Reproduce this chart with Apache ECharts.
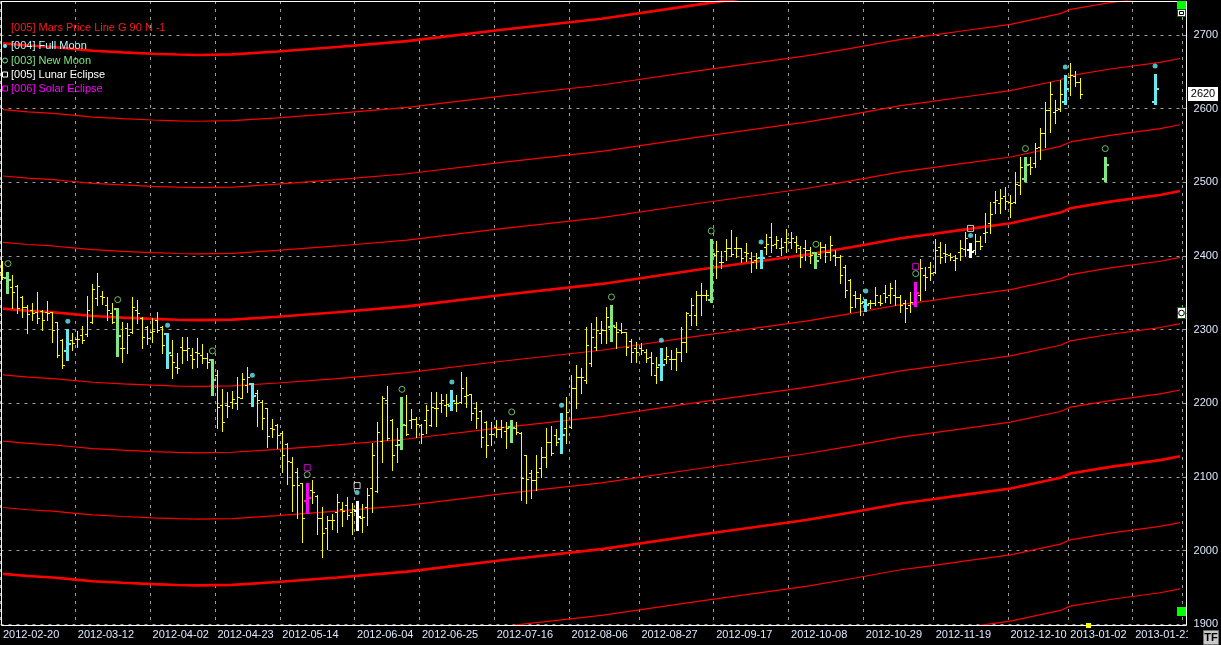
<!DOCTYPE html>
<html><head><meta charset="utf-8">
<script src="https://cdn.jsdelivr.net/npm/echarts/dist/echarts.min.js"></script>
<style>html,body{margin:0;padding:0;background:#000;}#c{width:1221px;height:645px;}</style>
</head><body><div id="c"></div>
<script>
// ---------- categories (trading days) ----------
const START_DATE = '2012-02-20';
const SLOT_COUNT = 237;
const CLOSED_DAYS = ['2012-04-06','2012-04-09','2012-05-01','2012-05-02','2012-06-11','2012-06-12','2012-08-15','2012-11-12','2012-12-24','2012-12-25','2012-12-26','2012-12-31','2013-01-01'];
const LABEL_DATES = ['2012-02-20','2012-03-12','2012-04-02','2012-04-23','2012-05-14','2012-06-04','2012-06-25','2012-07-16','2012-08-06','2012-08-27','2012-09-17','2012-10-08','2012-10-29','2012-11-19','2012-12-10','2013-01-02','2013-01-21'];

// ---------- price bars (one per trading day from START_DATE) ----------
const OPEN = [2378.7,2369.7,2358.3,2359.7,2344.8,2331.2,2326.7,2324.4,2325.8,2324.4,2324.4,2310.4,2286.0,2271.0,2286.0,2286.9,2292.7,2293.6,2310.8,2342.5,
2346.1,2333.5,2322.1,2328.0,2274.6,2301.8,2297.3,2326.7,2315.4,2304.0,2297.3,2313.1,2304.0,2293.6,2265.6,2249.7,2276.9,2272.4,2265.6,2270.1,
2266,2262,2258.8,2238.4,2197.7,2197.7,2202.2,2200.0,2207.7,2224.9,2225.8,2213.6,2202.2,2193.2,2166.0,2170.6,2159.2,2144.3,2120.8,2107.2,
2091.4,2067.9,2082.3,2074.6,2043.9,2030.3,2041.6,2052.9,2056.5,2062.0,2052.9,2053.8,2043.9,2059.7,2084.6,2081.0,2148.9,2204.5,2177.4,2143.4,
2143.4,2170.6,2177.4,2178.3,2170.6,2177.4,2170.6,2193.2,2200.9,2197.7,2196.8,2200.9,2202.2,2209.9,2212.2,2193.2,2189.6,2175.1,2158.3,2168.3,
2164.7,2162.9,2168.3,2166.0,2160.2,2129.8,2105.0,2095.9,2111.7,2127.6,2148.0,2157.0,2151.1,2166.0,2168.3,2220.3,2236.2,2231.7,2254.3,2276.9,
2295.0,2299.5,2304.0,2304.0,2299.5,2296.3,2284.6,2275.5,2274.6,2270.1,2263.3,2238.4,2252.0,2260.1,2260.1,2260.1,2270.1,2283.6,2319.9,2319.9,
2347.0,2347.0,2340.2,2401.3,2392.2,2406.8,2410.4,2411.3,2410.4,2405.8,2396.8,2394.5,2396.8,2412.6,2426.2,2415.8,2410.4,2419.4,2418.5,2419.4,
2410.4,2410.4,2408.1,2403.6,2402.2,2412.6,2405.8,2401.3,2399.1,2385.5,2367.4,2347.0,2342.5,2338.0,2335.7,2335.7,2338.0,2349.3,2347.0,2347.0,
2344.8,2335.7,2333.5,2334.3,2347.0,2374.2,2385.5,2378.7,2412.6,2403.6,2401.3,2394.5,2405.8,2410,2408,2408,2420,2431.6,2444.3,2473.7,
2471.5,2481.4,2473.7,2473.7,2496.3,2504.0,2524.8,2526.7,2547.5,2566.5,2598.2,2595.9,2599.1,2609.5,2643.4,2644.3,2636.6];
const HIGH = [2393.6,2378.7,2374.2,2360.6,2345.7,2333.5,2335.7,2350.7,2326.7,2338.9,2324.4,2310.8,2287.3,2300.4,2295.9,2298.6,2304.9,2345.7,2362.0,2376.5,
2352.9,2344.8,2335.7,2329.8,2310.8,2308.6,2343.9,2340.2,2317.6,2304.9,2315.4,2324.4,2304.9,2295.0,2286.0,2267.8,2290.5,2290.5,2274.6,2288.2,
2280,2268,2260.2,2245.2,2219.4,2215.8,2216.7,2235.3,2240.7,2248.9,2227.1,2218.1,2204.5,2194.1,2178.7,2171.9,2162.4,2145.7,2127.6,2111.7,
2092.3,2092.3,2095.9,2075.5,2059.7,2047.5,2049.3,2076.4,2066.5,2073.3,2065.1,2067.9,2063.3,2085.5,2145.7,2175.1,2210.4,2223.5,2178.3,2167.0,
2208.1,2211.3,2191.8,2181.9,2171.9,2197.7,2215.8,2214.9,2212.6,2212.2,2218.1,2211.3,2242.1,2235.3,2212.6,2201.3,2190.9,2176.0,2174.2,2177.4,
2177.4,2175.1,2177.4,2175.1,2160.6,2129.8,2109.5,2129.8,2140.3,2166.0,2169.2,2164.7,2186.4,2209.0,2238.4,2252.0,2247.5,2304.0,2309.5,2316.7,
2311.7,2331.2,2333.4,2310.8,2308.5,2297.2,2287.3,2283.6,2281.4,2273.7,2269.2,2263.3,2274.6,2276.9,2272.4,2274.6,2304.0,2324.4,2342.5,2352.4,
2362.8,2353.8,2423.0,2420.3,2406.8,2423.0,2435.2,2426.2,2411.3,2417.1,2405.8,2403.6,2408.1,2429.4,2444.3,2427.5,2424.8,2436.6,2433.0,2427.5,
2414.0,2421.7,2412.6,2404.9,2419.4,2415.8,2427.1,2408.1,2401.3,2387.7,2368.7,2352.5,2347.9,2341.6,2340.2,2358.3,2347.0,2360.6,2362.9,2367.4,
2347.0,2340.2,2351.5,2365.1,2395.9,2385.5,2392.3,2423.0,2418.5,2415.8,2403.6,2401.3,2421.7,2433,2417,2430,2427,2457.9,2473.7,2488.6,
2490.5,2493.2,2482.8,2513.5,2533.9,2534.8,2534.8,2553.8,2573.3,2609.5,2636.6,2611.7,2638.9,2645.7,2661.5,2651.5,2641.1];
const LOW = [2368.3,2349.3,2328.9,2322.1,2317.6,2295.0,2313.1,2309.5,2299.5,2313.1,2283.7,2263.3,2247.5,2258.8,2272.4,2276.0,2282.3,2291.4,2309.5,2333.5,
2334.4,2313.1,2308.6,2264.2,2256.5,2267.8,2295.9,2309.5,2275.5,2280.5,2283.7,2297.3,2267.8,2247.5,2233.9,2240.7,2254.3,2258.8,2247.5,2249.7,
2255,2248,2211.3,2167.0,2162.4,2181.9,2193.2,2192.3,2206.8,2215.8,2196.4,2169.7,2165.2,2141.2,2154.7,2139.8,2106.3,2090.5,2053.8,2044.8,
2012.2,2050.7,2064.2,2022.1,1991.8,2002.2,2029.4,2024.9,2033.9,2043.0,2022.1,2028.0,2025.8,2034.8,2052.9,2080.1,2119.9,2150.2,2109.5,2120.8,
2138.0,2157.0,2166.0,2154.7,2146.6,2159.3,2169.7,2169.7,2188.7,2182.8,2190.9,2190.0,2200.0,2195.4,2177.4,2166.0,2141.2,2126.6,2143.9,2154.7,
2154.7,2139.8,2148.0,2158.3,2068.7,2065.1,2071.0,2082.3,2100.4,2113.1,2129.8,2143.4,2133.0,2146.6,2166.0,2193.2,2213.5,2227.1,2250.7,2272.4,
2281.4,2281.4,2284.6,2274.6,2295.0,2265.6,2256.5,2255.6,2266.5,2256.5,2238.4,2227.1,2231.6,2254.2,2246.5,2245.2,2257.4,2270.1,2306.3,2306.3,
2319.9,2340.2,2338.0,2370.5,2383.2,2394.5,2400.4,2399.0,2392.2,2393.2,2377.8,2384.1,2384.1,2402.2,2404.9,2410.4,2401.3,2404.9,2410.4,2405.8,
2385.5,2394.5,2390.0,2384.1,2396.8,2391.4,2394.5,2387.7,2362.9,2344.8,2324.4,2331.2,2319.9,2325.3,2328.9,2333.5,2333.5,2338.0,2335.7,2333.5,
2324.4,2309.9,2324.4,2332.5,2340.2,2353.8,2367.4,2376.4,2390.0,2391.4,2394.5,2381.0,2394.5,2400,2398,2403,2410,2419.4,2430.7,2458.8,
2458.8,2463.3,2452.4,2471.5,2484.1,2502.2,2511.3,2520.3,2531.2,2547.5,2568.7,2581.0,2597.2,2606.3,2618.5,2630.7,2614.0];
const CLOSE = [2371.9,2367.4,2351.6,2328.9,2331.2,2321.2,2322.1,2315.4,2313.1,2322.1,2299.5,2265.0,2252.0,2280.1,2281.4,2286.9,2286.0,2326.7,2355.2,2359.3,
2344.8,2326.7,2310.8,2291.8,2274.6,2292.7,2331.2,2323.1,2290.5,2288.2,2298.2,2299.5,2279.2,2267.8,2256.5,2247.5,2272.4,2274.6,2259.7,2267.8,
2262,2256,2231.7,2194.6,2174.2,2196.8,2205.9,2208.1,2232.6,2236.2,2209.9,2204.5,2179.6,2156.1,2165.2,2157.0,2129.9,2121.7,2089.1,2089.1,
2043.9,2071.9,2080.1,2043.9,2023.5,2041.6,2041.6,2066.5,2053.8,2048.4,2056.5,2045.2,2046.1,2075.5,2129.9,2161.5,2207.7,2152.5,2129.9,2150.2,
2170.6,2158.3,2178.3,2171.9,2158.3,2190.9,2195.4,2193.2,2204.5,2199.1,2203.6,2200.9,2220.3,2211.3,2186.4,2179.6,2154.7,2143.4,2158.3,2165.1,
2168.3,2166.0,2166.0,2161.5,2098.2,2096.8,2095.9,2107.2,2127.6,2148.0,2132.1,2148.0,2157.0,2188.6,2220.3,2236.2,2236.2,2279.2,2290.5,2299.5,
2299.5,2317.6,2305.4,2296.3,2297.2,2276.9,2270.1,2270.1,2272.4,2261.0,2254.2,2249.7,2252.0,2264.6,2260.1,2270.1,2283.6,2322.1,2333.4,2347.0,
2347.0,2347.0,2402.2,2406.8,2391.3,2410.4,2402.2,2410.4,2397.7,2403.6,2392.2,2396.8,2396.8,2415.8,2414.9,2421.7,2412.6,2423.9,2424.8,2414.9,
2399.0,2408.1,2401.3,2393.2,2412.6,2405.8,2414.9,2399.1,2374.2,2353.8,2331.2,2342.5,2335.7,2333.5,2335.7,2347.0,2335.7,2344.8,2356.1,2344.8,
2333.5,2328.9,2338.0,2349.3,2383.2,2371.9,2376.4,2408.1,2399.1,2402.2,2399.1,2396.8,2410.4,2425,2405,2420,2413,2433.0,2456.9,2476.0,
2478.2,2475.1,2471.5,2497.7,2520.3,2523.5,2521.2,2546.1,2566.5,2598.2,2619.9,2598.2,2619.9,2626.2,2645.7,2636.6,2620.0];

// ---------- moon / eclipse events ----------
const FULL_MOON = ['2012-03-08','2012-04-05','2012-05-04','2012-06-04','2012-07-03','2012-08-02','2012-08-31','2012-09-28','2012-10-29','2012-11-28','2012-12-28','2013-01-25'];
const NEW_MOON = ['2012-02-21','2012-03-22','2012-04-20','2012-05-21','2012-06-19','2012-07-19','2012-08-17','2012-09-14','2012-10-15','2012-11-13','2012-12-13','2013-01-11'];
const LUNAR_ECLIPSE = ['2012-06-04','2012-11-28'];
const SOLAR_ECLIPSE = ['2012-05-21','2012-11-13'];
// projected event bars beyond the last price bar: [date, open, high, low, close]
const PROJECTED_BARS = [['2013-01-11',2504.0,2534.8,2502.2,2523.5],['2013-01-25',2609.5,2647.0,2606.3,2626.2]];

// ---------- Mars price line (G 90) ----------
const MARS_IDX  = [0,5,10,14,18,24,30,35,39,46,55,67,81,100,120,140,161,170,180,186,193,202,212,214,222,232,236];
const MARS_BASE = [1968.5,1965.5,1963.5,1961,1958.5,1956.3,1954.5,1953.3,1952.8,1953.5,1957.5,1963.5,1971.5,1987,2002,2021.8,2041.5,2051.8,2064,2069.4,2076,2084.3,2098.8,2104.7,2113.7,2122.8,2128];
const MARS_LEVELS = [-180,-90,0,90,180,270,360,450,540,630,720];

const Y_MIN = 1900, Y_MAX = 2746, Y_STEP = 100;
const LAST_PRICE = CLOSE[CLOSE.length-1];

// ---------- build ----------
const categories = [];
(function(){
  const d = new Date(START_DATE+'T00:00:00Z');
  while (categories.length < SLOT_COUNT) {
    const w = d.getUTCDay(), s = d.toISOString().slice(0,10);
    if (w !== 0 && w !== 6 && CLOSED_DAYS.indexOf(s) < 0) categories.push(s);
    d.setUTCDate(d.getUTCDate()+1);
  }
})();
const labelIdx = new Set(LABEL_DATES.map(s => categories.indexOf(s)));

const priceData = OPEN.map((o,i) => [i, o, HIGH[i], LOW[i], CLOSE[i]]);
function barFor(date){
  const i = categories.indexOf(date);
  if (i >= 0 && i < OPEN.length) return [i, OPEN[i], HIGH[i], LOW[i], CLOSE[i]];
  const p = PROJECTED_BARS.find(b => b[0] === date);
  return p ? [i, p[1], p[2], p[3], p[4]] : null;
}
const evBars = list => list.map(barFor).filter(Boolean);

const FONT = '"Liberation Sans", Arial, sans-serif';
const COL = {yellow:'#ffff00', cyan:'#66eaf2', green:'#80e880', white:'#ffffff', magenta:'#ff00ff', red:'#ff0000', grid:'#9a9a9a', text:'#dde8ff'};

function makeOHLC(color, thick){
  return function(params, api){
    const i = api.value(0);
    const o = api.coord([i, api.value(1)]), h = api.coord([i, api.value(2)]);
    const l = api.coord([i, api.value(3)]), c = api.coord([i, api.value(4)]);
    const col = Math.floor(h[0]);
    const yH = Math.round(h[1]), yL = Math.round(l[1]), yO = Math.round(o[1]), yC = Math.round(c[1]);
    const st = {fill: color};
    const k = [];
    if (!thick) {
      k.push({type:'rect', shape:{x:col, y:yH, width:1, height:Math.max(1,yL-yH+1)}, style:st});
      k.push({type:'rect', shape:{x:col-2, y:yO, width:2, height:1}, style:st});
      k.push({type:'rect', shape:{x:col+1, y:yC, width:2, height:1}, style:st});
    } else {
      k.push({type:'rect', shape:{x:col-1, y:yH, width:3, height:Math.max(1,yL-yH+1)}, style:st});
      k.push({type:'rect', shape:{x:col-3, y:yO-1, width:2, height:2}, style:st});
      k.push({type:'rect', shape:{x:col+2, y:yC-1, width:2, height:2}, style:st});
    }
    return {type:'group', children:k};
  };
}
function ohlcSeries(name, data, color, thick, z){
  return {name, type:'custom', data, renderItem:makeOHLC(color, thick), clip:true, z, silent:true,
          encode:{x:0, y:[1,2,3,4]}, animation:false};
}
function markerSeries(name, list, symbol, size, color, filled, offset, z){
  return {name, type:'scatter', z, silent:true, animation:false,
    data: evBars(list).map(b => [b[0], b[2]]),
    symbol, symbolSize:size, symbolOffset:[0, offset],
    itemStyle: filled ? {color} : {color:'rgba(0,0,0,0)', borderColor:color, borderWidth:1}};
}

const series = [];
MARS_LEVELS.forEach(lv => {
  const thick = lv % 360 === 0;
  series.push({name:'mars'+lv, type:'line', z:1, silent:true, animation:false, symbol:'none', clip:true,
    data: MARS_IDX.map((ix,j) => [ix, MARS_BASE[j] + lv]),
    lineStyle:{color:COL.red, width: thick ? 2.6 : 1.2}});
});
series.push(ohlcSeries('price', priceData, COL.yellow, false, 3));
series.push(ohlcSeries('newMoonBar', evBars(NEW_MOON), COL.green, true, 4));
series.push(ohlcSeries('fullMoonBar', evBars(FULL_MOON), COL.cyan, true, 4));
series.push(ohlcSeries('solarBar', evBars(SOLAR_ECLIPSE), COL.magenta, true, 5));
series.push(ohlcSeries('lunarBar', evBars(LUNAR_ECLIPSE), COL.white, true, 5));
series.push(markerSeries('fullMoonMk', FULL_MOON, 'circle', 5, COL.cyan, true, -8, 6));
series.push(markerSeries('newMoonMk', NEW_MOON, 'circle', 6, COL.green, false, -8, 6));
series.push(markerSeries('lunarMk', LUNAR_ECLIPSE, 'rect', 6, COL.white, false, -15, 6));
series.push(markerSeries('solarMk', SOLAR_ECLIPSE, 'rect', 6, COL.magenta, false, -15, 6));

const legendItems = [
  {t:'[004] Full Moon', c:'#b8f6f8', y:46, mk:{type:'circle', shape:{cx:5, cy:46, r:2}, style:{fill:COL.cyan}}},
  {t:'[003] New Moon', c:COL.green, y:60.5, mk:{type:'circle', shape:{cx:5, cy:60.5, r:2.5}, style:{fill:'none', stroke:COL.green, lineWidth:1}}},
  {t:'[005] Lunar Eclipse', c:'#ffffff', y:74.5, mk:{type:'rect', shape:{x:2.5, y:72, width:5, height:5}, style:{fill:'none', stroke:'#fff', lineWidth:1}}},
  {t:'[006] Solar Eclipse', c:COL.magenta, y:88.5, mk:{type:'rect', shape:{x:2.5, y:86, width:5, height:5}, style:{fill:'none', stroke:COL.magenta, lineWidth:1}}}
];
const graphics = [
  {type:'rect', z:50, silent:true, shape:{x:1.5, y:1.5, width:1185, height:624}, style:{fill:'none', stroke:'#fff', lineWidth:1}},
  {type:'text', z:60, x:11, y:28, style:{text:'[005] Mars Price Line G 90 N -1', fill:'#ff1a1a', font:'11px '+FONT, verticalAlign:'middle'}}
];
legendItems.forEach(it => {
  graphics.push({type:'text', z:60, x:11, y:it.y, style:{text:it.t, fill:it.c, font:'11px '+FONT, verticalAlign:'middle'}});
  graphics.push(Object.assign({z:60}, it.mk));
});
graphics.push(
  {type:'rect', z:60, shape:{x:1177, y:1, width:9, height:8}, style:{fill:'#00ff00'}},
  {type:'rect', z:60, shape:{x:1177.5, y:9.5, width:8, height:7}, style:{fill:'#ffffff', stroke:'#006600', lineWidth:1}},
  {type:'rect', z:61, shape:{x:1179.5, y:11.5, width:4, height:3}, style:{fill:'none', stroke:'#000', lineWidth:1}},
  {type:'rect', z:60, shape:{x:1177.5, y:307.5, width:8, height:11}, style:{fill:'#ffffff', stroke:'#006600', lineWidth:1}},
  {type:'circle', z:61, shape:{cx:1181.5, cy:313, r:2.8}, style:{fill:'none', stroke:'#000', lineWidth:1}},
  {type:'rect', z:60, shape:{x:1177, y:607, width:9, height:9}, style:{fill:'#00ff00'}},
  {type:'rect', z:60, shape:{x:1086, y:623, width:5, height:5}, style:{fill:'#ffff00'}},
  {type:'rect', z:70, shape:{x:1188, y:630, width:33, height:15}, style:{fill:'#000'}},
  {type:'rect', z:71, shape:{x:1203.5, y:630.5, width:15, height:14}, style:{fill:'#c8c8c8', stroke:'#707070', lineWidth:1}},
  {type:'text', z:72, x:1211, y:638, style:{text:'TF', fill:'#000', font:'bold 11px '+FONT, align:'center', verticalAlign:'middle'}}
);

const chart = echarts.init(document.getElementById('c'), null, {renderer:'canvas'});
chart.setOption({
  backgroundColor:'#000',
  animation:false,
  grid:{left:0, top:1, width:1186, height:623.3, containLabel:false},
  xAxis:{type:'category', data:categories, boundaryGap:true,
    axisLine:{show:false}, axisTick:{show:false},
    axisLabel:{interval:(i)=>labelIdx.has(i), align:'left', color:COL.text, fontSize:11, fontFamily:FONT, margin:5, hideOverlap:false},
    splitLine:{show:true, interval:(i)=>labelIdx.has(i), lineStyle:{color:COL.grid, type:[3,5], width:1}}},
  yAxis:{type:'value', position:'right', min:Y_MIN, max:Y_MAX, interval:Y_STEP, scale:false,
    axisLine:{show:false}, axisTick:{show:true, length:4, lineStyle:{color:COL.grid}},
    axisLabel:{color:COL.text, fontSize:11, fontFamily:FONT, margin:11, formatter:v => (v % 100 === 0 ? String(v) : '')},
    splitLine:{show:true, lineStyle:{color:COL.grid, type:[3,5], width:1}}},
  series,
  graphic:{elements:graphics}
});
// last-price tag placed through the y-axis scale
const lastY = chart.convertToPixel({yAxisIndex:0}, LAST_PRICE);
chart.setOption({graphic:{elements:[
  {id:'lastPriceBox', type:'rect', z:80, shape:{x:1188, y:Math.round(lastY)-7, width:30, height:14}, style:{fill:'#ffffff'}},
  {id:'lastPriceTxt', type:'text', z:81, x:1203, y:Math.round(lastY), style:{text:String(LAST_PRICE), fill:'#000', font:'11px '+FONT, align:'center', verticalAlign:'middle'}}
]}});
</script>
</body></html>
